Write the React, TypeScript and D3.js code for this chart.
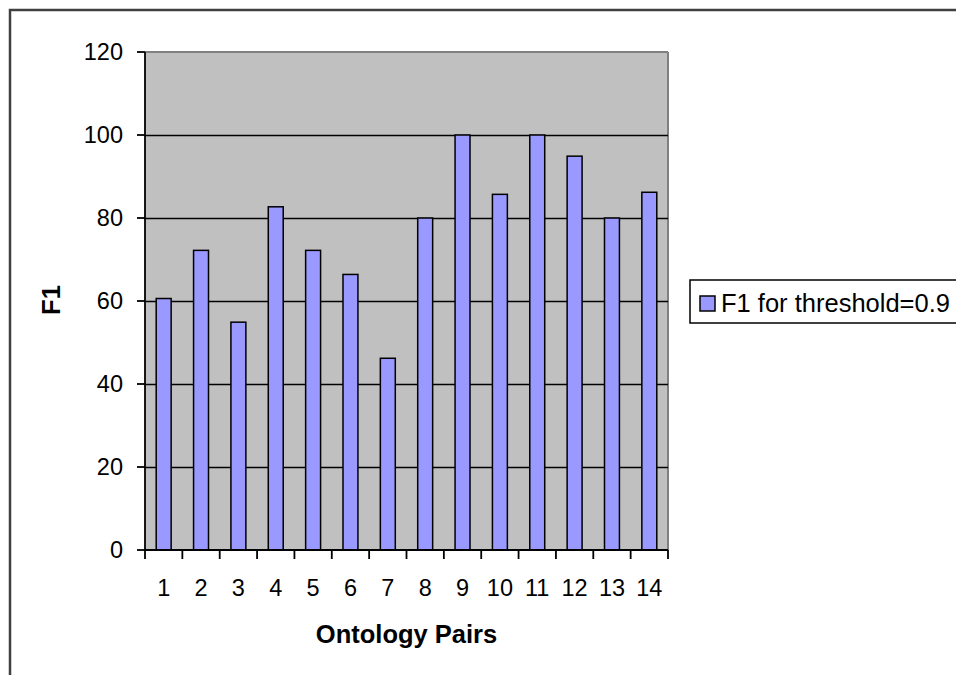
import React from "react";
import * as d3 from "d3";

const categories = ["1", "2", "3", "4", "5", "6", "7", "8", "9", "10", "11", "12", "13", "14"];
const f1Values = [60.6, 72.2, 54.9, 82.7, 72.2, 66.4, 46.2, 80, 100, 85.7, 100, 94.9, 80, 86.2];
const yTicks = [0, 20, 40, 60, 80, 100, 120];
const seriesName = "F1 for threshold=0.9";
const xTitle = "Ontology Pairs";
const yTitle = "F1";

const W = 956;
const H = 675;
const plot = { left: 145, right: 668, top: 52, bottom: 550 };
const FONT = "Arial, 'Liberation Sans', sans-serif";

export default function App() {
  const x = d3
    .scaleBand<string>()
    .domain(categories)
    .range([plot.left, plot.right])
    .paddingInner(0.6)
    .paddingOuter(0.3);
  const y = d3.scaleLinear().domain([0, 120]).range([plot.bottom, plot.top]);
  const step = x.step();
  const bw = x.bandwidth();
  const boundaries = categories.map((c) => (x(c) as number) + bw / 2 - step / 2);
  boundaries.push(boundaries[boundaries.length - 1] + step);

  return (
    <svg
      width={W}
      height={H}
      style={{ position: "absolute", left: 0, top: 0, background: "#fff" }}
      fontFamily={FONT}
    >
      {/* outer chart border */}
      <rect x={10} y={10} width={W + 20} height={H + 20} fill="#fff" stroke="#404040" strokeWidth={2.5} />

      {/* plot area */}
      <rect
        x={plot.left}
        y={plot.top}
        width={plot.right - plot.left}
        height={plot.bottom - plot.top}
        fill="#C0C0C0"
      />
      <line x1={plot.left} x2={plot.right} y1={plot.top} y2={plot.top} stroke="#808080" strokeWidth={2} />
      <line x1={plot.right} x2={plot.right} y1={plot.top} y2={plot.bottom} stroke="#808080" strokeWidth={2} />

      {/* gridlines */}
      {yTicks
        .filter((t) => t > 0 && t < 120)
        .map((t) => (
          <line
            key={"g" + t}
            x1={plot.left}
            x2={plot.right}
            y1={Math.round(y(t)) + 0.5}
            y2={Math.round(y(t)) + 0.5}
            stroke="#000"
            strokeWidth={1.5}
          />
        ))}

      {/* bars */}
      {categories.map((c, i) => (
        <rect
          key={"b" + c}
          x={x(c) as number}
          y={y(f1Values[i])}
          width={bw}
          height={y(0) - y(f1Values[i])}
          fill="#9999FF"
          stroke="#000"
          strokeWidth={1.5}
        />
      ))}

      {/* y axis */}
      <line x1={plot.left} x2={plot.left} y1={plot.top} y2={plot.bottom} stroke="#000" strokeWidth={1.8} />
      {yTicks.map((t) => (
        <g key={"yt" + t}>
          <line x1={plot.left - 8} x2={plot.left} y1={y(t)} y2={y(t)} stroke="#000" strokeWidth={1.8} />
          <text
            x={123}
            y={y(t)}
            textAnchor="end"
            dominantBaseline="central"
            fontSize={23.5}
            fill="#000"
          >
            {t}
          </text>
        </g>
      ))}

      {/* x axis */}
      <line x1={plot.left} x2={plot.right} y1={plot.bottom} y2={plot.bottom} stroke="#000" strokeWidth={1.8} />
      {boundaries.map((b, i) => (
        <line key={"xt" + i} x1={b} x2={b} y1={plot.bottom} y2={plot.bottom + 9} stroke="#000" strokeWidth={1.8} />
      ))}
      {categories.map((c) => (
        <text
          key={"xl" + c}
          x={(x(c) as number) + bw / 2}
          y={588}
          textAnchor="middle"
          dominantBaseline="central"
          fontSize={23.5}
          fill="#000"
        >
          {c}
        </text>
      ))}

      {/* axis titles */}
      <text
        x={(plot.left + plot.right) / 2}
        y={643}
        textAnchor="middle"
        fontSize={25.5}
        fontWeight="bold"
        fill="#000"
      >
        {xTitle}
      </text>
      <text
        transform={`translate(60, 300) rotate(-90)`}
        textAnchor="middle"
        fontSize={25.5}
        fontWeight="bold"
        fill="#000"
      >
        {yTitle}
      </text>

      {/* legend */}
      <rect x={690} y={280} width={300} height={43} fill="#fff" stroke="#000" strokeWidth={1.5} />
      <rect x={700} y={296} width={15} height={15} fill="#9999FF" stroke="#000" strokeWidth={1.5} />
      <text x={721} y={311.5} fontSize={25.5} fill="#000">
        {seriesName}
      </text>
    </svg>
  );
}
